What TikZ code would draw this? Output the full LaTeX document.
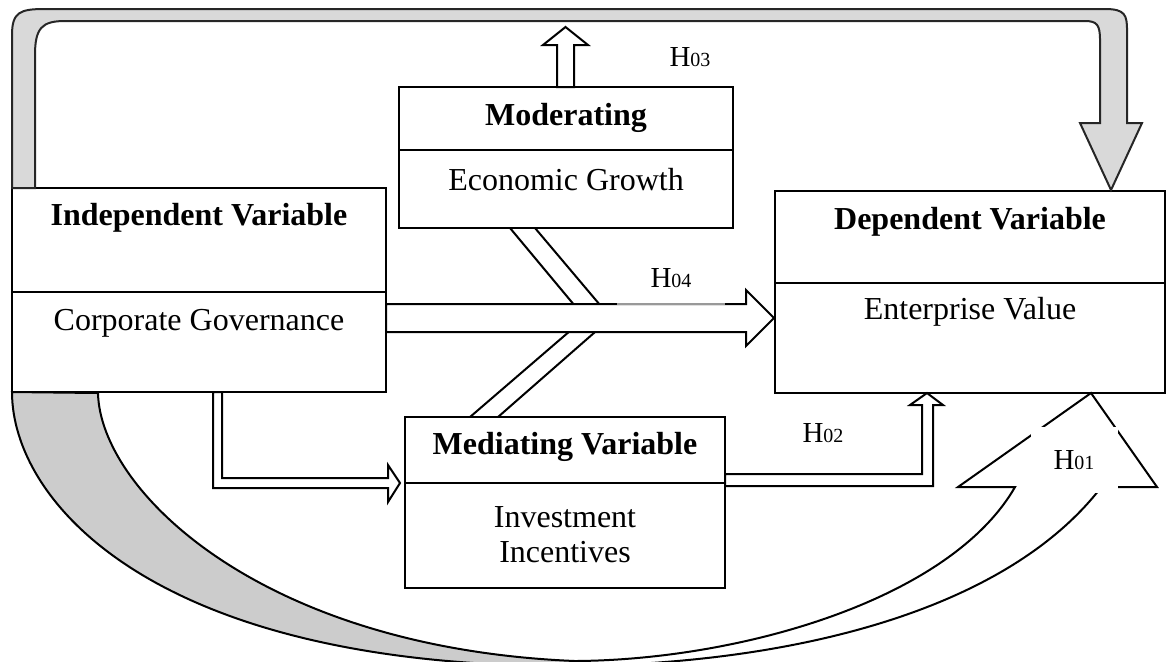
\documentclass[tikz,border=0pt]{standalone}
\usepackage{fontspec}
\setmainfont{Liberation Serif}
\usetikzlibrary{positioning}

\newcommand{\hlab}[1]{H{\fontsize{10}{12}\selectfont #1}}

\tikzset{
  part/.style 2 args={draw, line width=1pt, inner sep=0pt, outer sep=0pt, minimum width=#1, minimum height=#2},
  boxhead/.style={font=\fontsize{16}{19}\selectfont\bfseries},
  boxtext/.style={font=\fontsize{16}{17.5}\selectfont, align=center},
  hyp/.style={font=\fontsize{14.5}{17}\selectfont, inner sep=1pt},
  hollow/.style={draw, line width=1pt, fill=white},
  band/.style={draw=black!85, line width=1pt, fill=black!15},
}

\begin{document}
\begin{tikzpicture}[x=0.5pt, y=-0.5pt]
    \useasboundingbox (0,0) rectangle (1170,661);

    % Boxes
    \node[part={187pt}{52pt}, anchor=north west] (indT) at (12,188) {};
    \node[part={187pt}{50pt}, below=0pt of indT] (indB) {};
    \node[part={167pt}{31.5pt}, anchor=north west] (modT) at (399,87) {};
    \node[part={167pt}{39pt}, below=0pt of modT] (modB) {};
    \node[part={195pt}{46pt}, anchor=north west] (depT) at (775,191) {};
    \node[part={195pt}{55pt}, below=0pt of depT] (depB) {};
    \node[part={160pt}{33pt}, anchor=north west] (medT) at (405,417) {};
    \node[part={160pt}{52.5pt}, below=0pt of medT] (medB) {};

    % Box texts
    \node[boxhead] (indH) at ([yshift=-15pt]indT.north) {Independent Variable};
    \node[boxtext] (indX) at ([yshift=-15.5pt]indB.north) {Corporate Governance};
    \node[boxhead] (modH) at ([yshift=-15.5pt]modT.north) {Moderating};
    \node[boxtext] (modX) at ([yshift=-15pt]modB.north) {Economic Growth};
    \node[boxhead] (depH) at ([yshift=-15.5pt]depT.north) {Dependent Variable};
    \node[boxtext] (depX) at ([yshift=-14.5pt]depB.north) {Enterprise Value};
    \node[boxhead] (medH) at ([yshift=-15pt]medT.north) {Mediating Variable};
    \node[boxtext] (medX) at ([yshift=-26pt]medB.north) {Investment\\Incentives};

    % Grey band over the top
    \draw[band] (indT.north west) -- (12,35) .. controls (12,12) and (20,9) .. (45,9)
        -- (1105,9) .. controls (1125,9) and (1127,15) .. (1127,30) -- (1127,123)
        -- (1142,123) -- (1111,190) -- (1080,123) -- (1100,123)
        -- (1100,40) .. controls (1100,25) and (1097,21) .. (1085,21)
        -- (65,21) .. controls (42,21) and (35,28) .. (35,55) -- (35,188) -- cycle;

    % Curved arrow underneath
    \draw[band, draw=black, fill=black!20] (indB.south west) .. controls (12,500) and (150,664) .. (560,666)
        -- (575,661) .. controls (260,648) and (100,490) .. (98,393) -- cycle;
    \draw[line width=1pt] (560,666) .. controls (780,666) and (1000,615) .. (1099,490)
        -- (1099,487) -- (1157,487) -- (depB.south -| 1091,0) -- (958,487) -- (1015,487)
        .. controls (950,600) and (740,660) .. (575,661);

    % Moderating channel
    \draw[line width=1pt] ([xshift=-28pt]modB.south) -- (585,318) -- ([xshift=-47.5pt]medT.north);
    \draw[line width=1pt] ([xshift=-15.5pt]modB.south) -- (611,318) -- ([xshift=-33.5pt]medT.north);

    % Hollow arrows
    \draw[hollow] ([yshift=-6pt]indB.north east) -- ++(360,0) -- ++(0,-14) -- ++(28,28)
        -- ++(-28,28) -- ++(0,-14) -- ++(-360,0) -- cycle;
    \draw[hollow] ([xshift=-4.5pt]modT.north) -- ++(0,-42) -- ++(-14,0) -- ++(22.5,-18)
        -- ++(22.5,18) -- ++(-14,0) -- ++(0,42) -- cycle;
    \draw[hollow] ([yshift=4.5pt]medT.south east) -- ++(197,0) -- ++(0,-69) -- ++(-12,0)
        -- ++(17,-12) -- ++(16,12) -- ++(-10,0) -- ++(0,81) -- ++(-208,0) -- cycle;
    \draw[hollow] ([xshift=7pt]indB.south) -- ++(0,96) -- ++(175,0) -- ++(0,14) -- ++(12,-19)
        -- ++(-12,-18) -- ++(0,13) -- ++(-166,0) -- ++(0,-86) -- cycle;

    % Hypothesis labels
    \node[hyp] (h3) at (690,57) {\hlab{03}};
    \node[hyp, fill=white, fill opacity=0.6, text opacity=1, minimum width=54pt, minimum height=27pt] (h4) at (671,278) {\hlab{04}};
    \node[hyp] (h2) at (823,433) {\hlab{02}};
    \node[hyp, fill=white, minimum width=43.5pt, minimum height=33pt] (h1) at (1074,460) {\hlab{01}};
\end{tikzpicture}
\end{document}
